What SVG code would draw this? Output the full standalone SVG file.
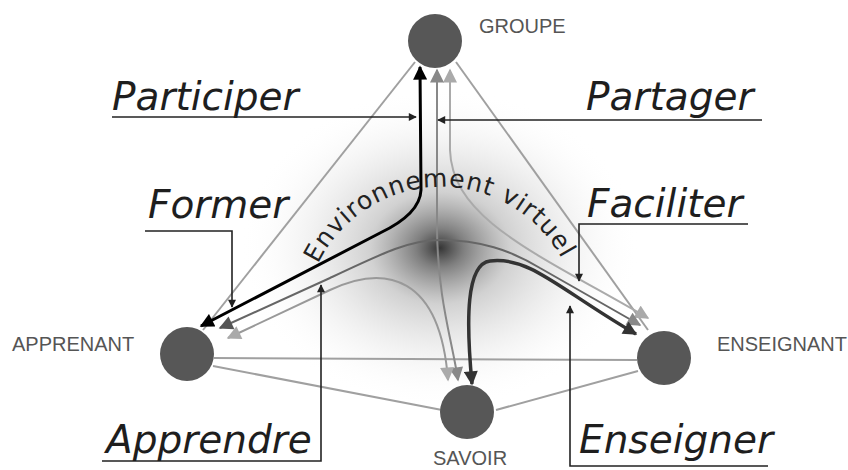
<svg xmlns="http://www.w3.org/2000/svg" width="848" height="470" viewBox="0 0 848 470">
<style>
.lbl{font-family:"Liberation Sans",Arial,sans-serif;font-size:20px;fill:#555}
.big{font-family:"DejaVu Sans",Verdana,sans-serif;font-style:italic;font-size:39px;fill:#1e1e1e}
.env{font-family:"DejaVu Sans",Verdana,sans-serif;font-size:25px;fill:#222}
.node{fill:#575757}
.edge{fill:none;stroke:#a0a0a0;stroke-width:2}
.ptr{fill:none;stroke:#222;stroke-width:1.6}
</style>
<defs>
<radialGradient id="hub" cx="0.5" cy="0.5" r="0.5">
<stop offset="0" stop-color="#2a2a2a" stop-opacity="0.95"/>
<stop offset="0.12" stop-color="#555" stop-opacity="0.75"/>
<stop offset="0.35" stop-color="#999" stop-opacity="0.45"/>
<stop offset="0.7" stop-color="#d8d8d8" stop-opacity="0.25"/>
<stop offset="1" stop-color="#fff" stop-opacity="0"/>
</radialGradient>
<marker id="mk0" viewBox="0 0 10 10" refX="9" refY="5" markerWidth="16" markerHeight="14" markerUnits="userSpaceOnUse" orient="auto-start-reverse"><path d="M0,0 L10,5 L0,10 z" fill="#000"/></marker>
<marker id="mk3" viewBox="0 0 10 10" refX="9" refY="5" markerWidth="16" markerHeight="14" markerUnits="userSpaceOnUse" orient="auto-start-reverse"><path d="M0,0 L10,5 L0,10 z" fill="#333"/></marker>
<marker id="mk5" viewBox="0 0 10 10" refX="9" refY="5" markerWidth="16" markerHeight="14" markerUnits="userSpaceOnUse" orient="auto-start-reverse"><path d="M0,0 L10,5 L0,10 z" fill="#555"/></marker>
<marker id="mk8" viewBox="0 0 10 10" refX="9" refY="5" markerWidth="16" markerHeight="14" markerUnits="userSpaceOnUse" orient="auto-start-reverse"><path d="M0,0 L10,5 L0,10 z" fill="#888"/></marker>
<marker id="mka" viewBox="0 0 10 10" refX="9" refY="5" markerWidth="16" markerHeight="14" markerUnits="userSpaceOnUse" orient="auto-start-reverse"><path d="M0,0 L10,5 L0,10 z" fill="#aaa"/></marker>
<marker id="sm" viewBox="0 0 10 10" refX="9" refY="5" markerWidth="11" markerHeight="8" markerUnits="userSpaceOnUse" orient="auto"><path d="M0,0 L10,5 L0,10 z" fill="#222"/></marker>
<path id="arc" d="M 318,264 A 137 137 0 0 1 568,272"/>
</defs>
<rect width="848" height="470" fill="#fff"/>
<ellipse cx="440" cy="248" rx="200" ry="160" fill="url(#hub)"/>
<g id="connectors">
<path class="edge" d="M 415,62 L 203,330"/>
<path class="edge" d="M 456,62 L 648,330"/>
<path class="edge" d="M 214,358 L 637,360" stroke="#b0b0b0"/>
<path class="edge" d="M 213,366 L 442,410"/>
<path class="edge" d="M 496,410 L 638,371"/>
<path fill="none" stroke="#aaa" stroke-width="2" marker-start="url(#mka)" marker-end="url(#mka)" d="M 450,70 L 450,150 C 452,220 540,255 648,318"/>
<path fill="none" stroke="#888" stroke-width="2" marker-start="url(#mk8)" marker-end="url(#mk8)" d="M 437,70 L 437,230 C 438,300 452,340 458,380"/>
<path fill="none" stroke="#999" stroke-width="2" marker-start="url(#mka)" marker-end="url(#mka)" d="M 228,338 L 330,290 C 385,264 440,275 448,380"/>
<path fill="none" stroke="#666" stroke-width="2" marker-start="url(#mk5)" marker-end="url(#mk8)" d="M 220,328 L 330,278 C 385,252 410,240 440,240 C 480,240 510,250 540,268 L 640,325"/>
<path fill="none" stroke="#333" stroke-width="3.5" marker-start="url(#mk3)" marker-end="url(#mk3)" d="M 472,384 C 466,320 466,264 490,261 C 530,256 560,290 636,334"/>
<path fill="none" stroke="#000" stroke-width="3" marker-start="url(#mk0)" marker-end="url(#mk0)" d="M 201,326 L 380,233 Q 420,214 421,190 L 420,67"/>
<path class="ptr" marker-end="url(#sm)" d="M 112,117 L 416,117"/>
<path class="ptr" marker-end="url(#sm)" d="M 762,120 L 438,120"/>
<path class="ptr" marker-end="url(#sm)" d="M 145,231 L 232,231 L 232,307"/>
<path class="ptr" marker-end="url(#sm)" d="M 748,224 L 579,224 L 579,281"/>
<path class="ptr" marker-end="url(#sm)" d="M 102,461 L 321,461 L 321,285"/>
<path class="ptr" marker-end="url(#sm)" d="M 768,466 L 570,466 L 570,306"/>
</g>
<text class="env"><textPath href="#arc" textLength="300" lengthAdjust="spacing">Environnement virtuel</textPath></text>
<g id="groupe"><circle class="node" cx="435" cy="41" r="27"/><text class="lbl" x="479" y="33">GROUPE</text></g>
<g id="apprenant"><circle class="node" cx="187" cy="354" r="27"/><text class="lbl" x="12" y="351">APPRENANT</text></g>
<g id="savoir"><circle class="node" cx="467" cy="412" r="27"/><text class="lbl" x="433" y="465">SAVOIR</text></g>
<g id="enseignant"><circle class="node" cx="664" cy="358" r="27"/><text class="lbl" x="717" y="351">ENSEIGNANT</text></g>
<g id="labels">
<text class="big" x="112" y="110">Participer</text>
<text class="big" x="586" y="110">Partager</text>
<text class="big" x="148" y="218">Former</text>
<text class="big" x="587" y="217">Faciliter</text>
<text class="big" x="106" y="453">Apprendre</text>
<text class="big" x="579" y="453">Enseigner</text>
</g>
</svg>
